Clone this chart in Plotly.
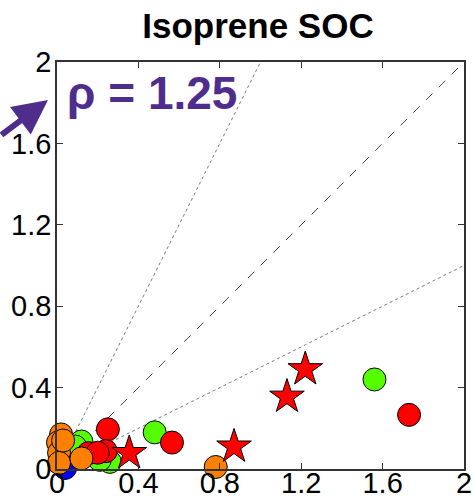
import plotly.graph_objects as go

# Data
blue_x = [0.04]
blue_y = [0.005]
green_x = [1.56, 0.48, 0.12, 0.09, 0.26, 0.21]
green_y = [0.44, 0.18, 0.135, 0.11, 0.035, 0.045]
red_x = [1.73, 0.25, 0.565, 0.24, 0.155, 0.20]
red_y = [0.266, 0.195, 0.13, 0.088, 0.078, 0.08]
orange_x = [0.78, 0.02, 0.005, 0.01, 0.01, 0.12, 0.03]
orange_y = [0.01, 0.17, 0.13, 0.08, 0.03, 0.052, 0.14]
star_x = [1.22, 1.13, 0.87, 0.355]
star_y = [0.49, 0.355, 0.11, 0.078]
line_x = [0, 2]
ratio_hi = 2.0
ratio_lo = 0.5
tick_vals = [0, 0.4, 0.8, 1.2, 1.6, 2]
tick_text = ["0", "0.4", "0.8", "1.2", "1.6", "2"]

fig = go.Figure()
fig.add_trace(go.Scatter(x=line_x, y=[v * ratio_hi for v in line_x], mode="lines",
                         line=dict(color="#777777", width=1, dash="dot"), cliponaxis=True))
fig.add_trace(go.Scatter(x=line_x, y=[v * ratio_lo for v in line_x], mode="lines",
                         line=dict(color="#777777", width=1, dash="dot"), cliponaxis=True))
fig.add_trace(go.Scatter(x=line_x, y=line_x, mode="lines",
                         line=dict(color="#444444", width=1, dash="dash"), cliponaxis=True))

def circ(x, y, c):
    return go.Scatter(x=x, y=y, mode="markers", cliponaxis=False,
                      marker=dict(symbol="circle", size=23, color=c,
                                  line=dict(color="black", width=1)))

fig.add_trace(circ(blue_x, blue_y, "#0000FF"))
fig.add_trace(circ(green_x, green_y, "#55FF00"))
fig.add_trace(circ(red_x, red_y, "#FF0000"))
fig.add_trace(circ(orange_x, orange_y, "#FF8000"))
fig.add_trace(go.Scatter(x=star_x, y=star_y, mode="markers", cliponaxis=False,
                         marker=dict(symbol="star", size=26, color="#FF0000",
                                     line=dict(color="black", width=1))))

axis_common = dict(range=[0, 2], tickvals=tick_vals, ticktext=tick_text,
                   ticks="inside", ticklen=6, tickcolor="#333333",
                   showline=True, linecolor="#333333", linewidth=1.5, mirror="ticks",
                   showgrid=False, zeroline=False, automargin=False,
                   tickfont=dict(family="Liberation Sans, Arial", size=29, color="black"))

fig.update_layout(
    width=473, height=503,
    margin=dict(l=57, r=9, t=62, b=34),
    paper_bgcolor="white", plot_bgcolor="white",
    showlegend=False,
    xaxis=dict(**axis_common, ticklabelstandoff=-13),
    yaxis=dict(**axis_common, ticklabelstandoff=-2),
    title=dict(text="<b>Isoprene SOC</b>", x=258 / 473, xanchor="center", xref="container",
               y=1 - 26 / 503, yanchor="middle", automargin=False,
               font=dict(family="Liberation Sans, Arial", size=35, color="black")),
)

fig.add_annotation(x=0.04, y=1.85, xref="x", yref="y", text="<b>ρ = 1.25</b>",
                   showarrow=False, xanchor="left", yanchor="middle",
                   font=dict(family="Liberation Sans, Arial", size=46, color="#4F2D8C"))
fig.add_annotation(x=-9 / 407, y=369 / 407, xref="paper", yref="paper", text="",
                   showarrow=True, ax=-62, ay=36, axref="pixel", ayref="pixel",
                   arrowhead=2, arrowsize=1.15, arrowwidth=6, arrowcolor="#4F2D8C",
                   standoff=0)

fig.write_html("out.html")
